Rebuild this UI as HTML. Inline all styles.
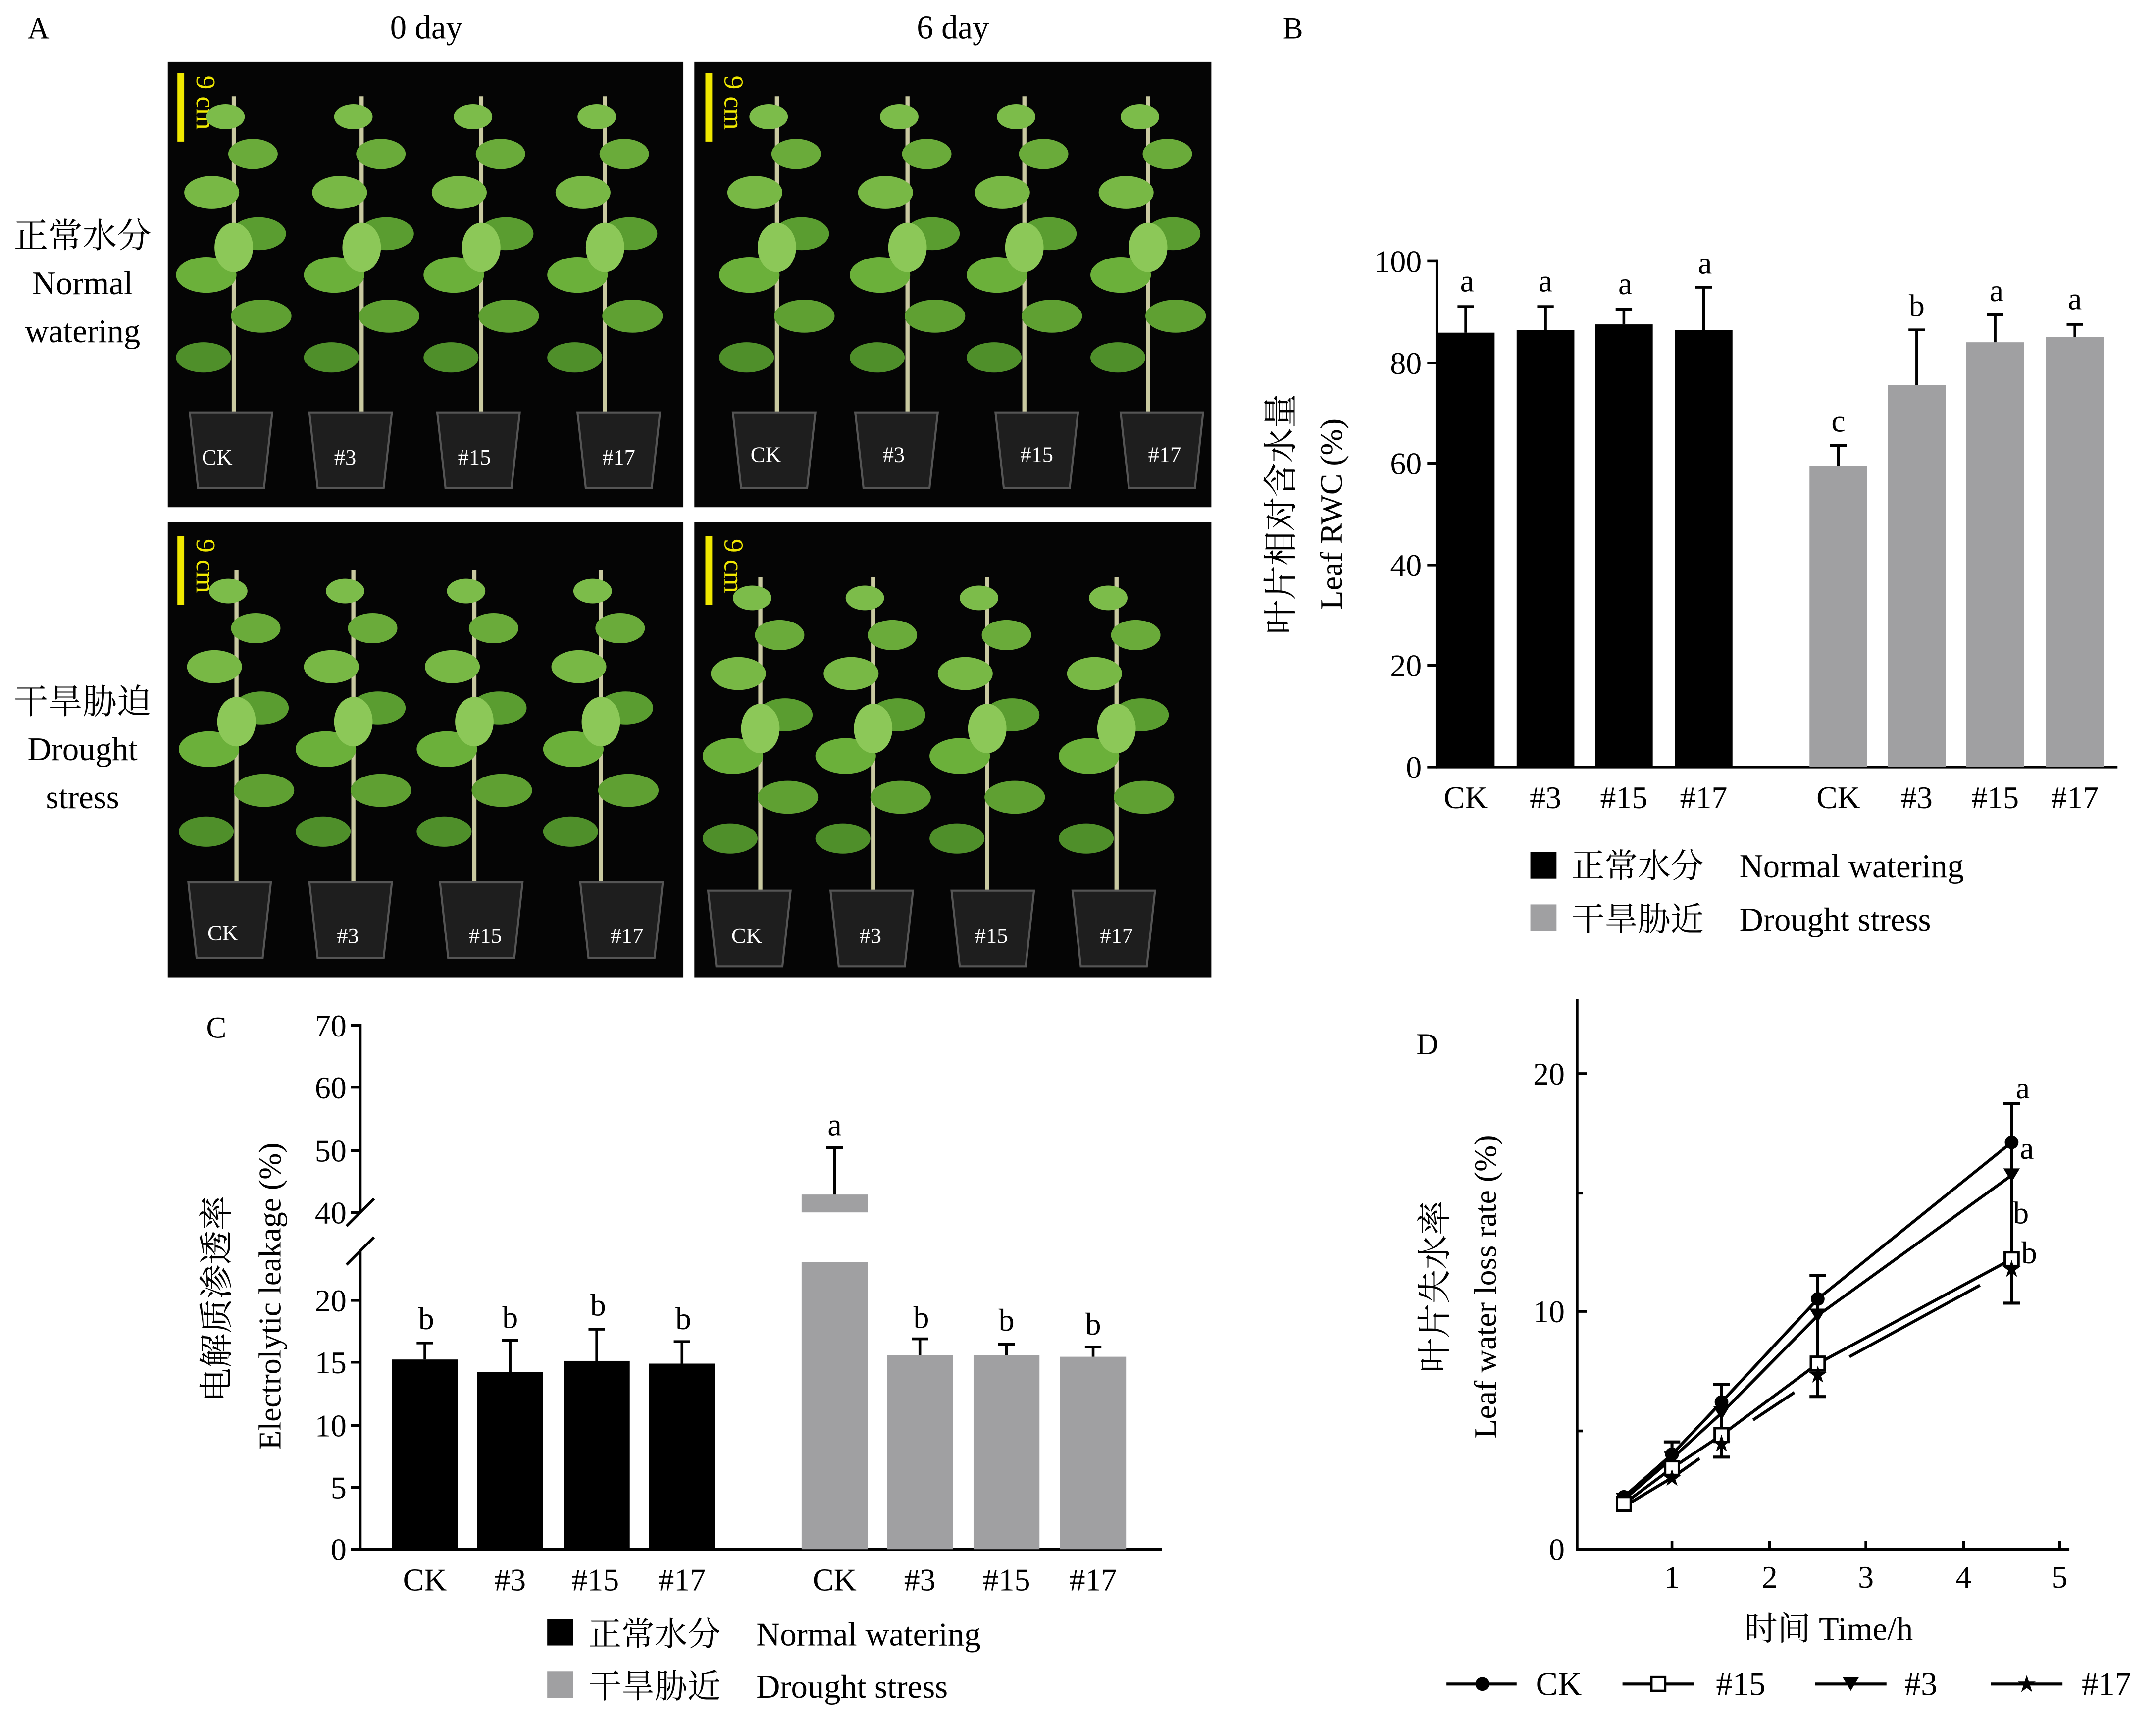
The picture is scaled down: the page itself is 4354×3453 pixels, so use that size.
<!DOCTYPE html>
<html><head><meta charset="utf-8"><style>
html,body{margin:0;padding:0;background:#fff}
svg{display:block}
text{font-family:"Liberation Serif","Noto Serif CJK SC","Noto Sans CJK SC",serif;fill:#000}
</style></head><body>
<svg width="4354" height="3453" viewBox="0 0 1568 1244" preserveAspectRatio="none" xmlns="http://www.w3.org/2000/svg">
<defs>
<g id="plant">
 <line x1="0" y1="0" x2="0" y2="-230" stroke="#c9c9a0" stroke-width="3"/>
 <ellipse cx="-22" cy="-40" rx="20" ry="11" fill="#4f8f2a"/>
 <ellipse cx="20" cy="-70" rx="22" ry="12" fill="#5fa032"/>
 <ellipse cx="-20" cy="-100" rx="22" ry="13" fill="#6bb03a"/>
 <ellipse cx="18" cy="-130" rx="20" ry="12" fill="#5a9d30"/>
 <ellipse cx="-16" cy="-160" rx="20" ry="12" fill="#78b845"/>
 <ellipse cx="14" cy="-188" rx="18" ry="11" fill="#6aab3a"/>
 <ellipse cx="-6" cy="-215" rx="14" ry="9" fill="#7cbc4a"/>
 <ellipse cx="0" cy="-120" rx="14" ry="18" fill="#8cc858"/>
</g>
<g id="pot">
 <path d="M-30,0 L30,0 L24,55 L-24,55 Z" fill="#1e1e1e" stroke="#555" stroke-width="1.5"/>
</g>
</defs>

<!-- Panel A -->
<text x="20" y="28" font-size="22">A</text>
<text x="310" y="28" font-size="24" text-anchor="middle">0 day</text>
<text x="693" y="28" font-size="24" text-anchor="middle">6 day</text>
<text x="60" y="180" font-size="25" text-anchor="middle">正常水分</text>
<text x="60" y="214" font-size="24" text-anchor="middle">Normal</text>
<text x="60" y="249" font-size="24" text-anchor="middle">watering</text>
<text x="60" y="519" font-size="25" text-anchor="middle">干旱胁迫</text>
<text x="60" y="553" font-size="24" text-anchor="middle">Drought</text>
<text x="60" y="588" font-size="24" text-anchor="middle">stress</text>

<g>
<rect x="122" y="45" width="375" height="324" fill="#050505"/>
<rect x="505" y="45" width="376" height="324" fill="#050505"/>
<rect x="122" y="380" width="375" height="331" fill="#050505"/>
<rect x="505" y="380" width="376" height="331" fill="#050505"/>
<rect x="129" y="53" width="5" height="50" fill="#f0e800"/><text font-size="20" style="fill:#f0e800" transform="translate(143,55) rotate(90)">9 cm</text>
<rect x="513" y="53" width="5" height="50" fill="#f0e800"/><text font-size="20" style="fill:#f0e800" transform="translate(527,55) rotate(90)">9 cm</text>
<rect x="129" y="390" width="5" height="50" fill="#f0e800"/><text font-size="20" style="fill:#f0e800" transform="translate(143,392) rotate(90)">9 cm</text>
<rect x="513" y="390" width="5" height="50" fill="#f0e800"/><text font-size="20" style="fill:#f0e800" transform="translate(527,392) rotate(90)">9 cm</text>
<use href="#plant" x="170" y="300"/><use href="#plant" x="263" y="300"/><use href="#plant" x="350" y="300"/><use href="#plant" x="440" y="300"/>
<use href="#pot" x="168" y="300"/><use href="#pot" x="255" y="300"/><use href="#pot" x="348" y="300"/><use href="#pot" x="450" y="300"/>
<use href="#plant" x="565" y="300"/><use href="#plant" x="660" y="300"/><use href="#plant" x="745" y="300"/><use href="#plant" x="835" y="300"/>
<use href="#pot" x="563" y="300"/><use href="#pot" x="652" y="300"/><use href="#pot" x="754" y="300"/><use href="#pot" x="845" y="300"/>
<use href="#plant" x="172" y="645"/><use href="#plant" x="257" y="645"/><use href="#plant" x="345" y="645"/><use href="#plant" x="437" y="645"/>
<use href="#pot" x="167" y="642"/><use href="#pot" x="255" y="642"/><use href="#pot" x="350" y="642"/><use href="#pot" x="452" y="642"/>
<use href="#plant" x="553" y="650"/><use href="#plant" x="635" y="650"/><use href="#plant" x="718" y="650"/><use href="#plant" x="812" y="650"/>
<use href="#pot" x="545" y="648"/><use href="#pot" x="634" y="648"/><use href="#pot" x="722" y="648"/><use href="#pot" x="810" y="648"/>
<g font-size="16">
<text x="158" y="338" text-anchor="middle" style="fill:#fff">CK</text><text x="251" y="338" text-anchor="middle" style="fill:#fff">#3</text><text x="345" y="338" text-anchor="middle" style="fill:#fff">#15</text><text x="450" y="338" text-anchor="middle" style="fill:#fff">#17</text>
<text x="557" y="336" text-anchor="middle" style="fill:#fff">CK</text><text x="650" y="336" text-anchor="middle" style="fill:#fff">#3</text><text x="754" y="336" text-anchor="middle" style="fill:#fff">#15</text><text x="847" y="336" text-anchor="middle" style="fill:#fff">#17</text>
<text x="162" y="684" text-anchor="middle" style="fill:#fff">CK</text><text x="253" y="686" text-anchor="middle" style="fill:#fff">#3</text><text x="353" y="686" text-anchor="middle" style="fill:#fff">#15</text><text x="456" y="686" text-anchor="middle" style="fill:#fff">#17</text>
<text x="543" y="686" text-anchor="middle" style="fill:#fff">CK</text><text x="633" y="686" text-anchor="middle" style="fill:#fff">#3</text><text x="721" y="686" text-anchor="middle" style="fill:#fff">#15</text><text x="812" y="686" text-anchor="middle" style="fill:#fff">#17</text>
</g>
</g>

<!-- Panel B -->
<text x="933" y="28" font-size="22">B</text>
<g stroke="#000" stroke-width="2" fill="none">
<line x1="1045" y1="189" x2="1045" y2="558"/>
<line x1="1044" y1="558" x2="1540" y2="558"/>
<line x1="1038" y1="190" x2="1045" y2="190"/><line x1="1038" y1="264" x2="1045" y2="264"/><line x1="1038" y1="337" x2="1045" y2="337"/><line x1="1038" y1="411" x2="1045" y2="411"/><line x1="1038" y1="484" x2="1045" y2="484"/><line x1="1038" y1="558" x2="1045" y2="558"/>
</g>
<g font-size="23" text-anchor="end">
<text x="1034" y="198">100</text><text x="1034" y="272">80</text><text x="1034" y="345">60</text><text x="1034" y="419">40</text><text x="1034" y="492">20</text><text x="1034" y="566">0</text>
</g>
<text font-size="25" text-anchor="middle" transform="translate(940,374) rotate(-90)">叶片相对含水量</text>
<text font-size="23" text-anchor="middle" transform="translate(976,374) rotate(-90)">Leaf RWC (%)</text>
<g fill="#000">
<rect x="1045" y="242" width="42" height="316"/><rect x="1103" y="240" width="42" height="318"/><rect x="1160" y="236" width="42" height="322"/><rect x="1218" y="240" width="42" height="318"/>
</g>
<g fill="#a0a0a2">
<rect x="1316" y="339" width="42" height="219"/><rect x="1373" y="280" width="42" height="278"/><rect x="1430" y="249" width="42" height="309"/><rect x="1488" y="245" width="42" height="313"/>
</g>
<g stroke="#000" stroke-width="2">
<line x1="1066" y1="242" x2="1066" y2="223"/><line x1="1060" y1="223" x2="1072" y2="223"/>
<line x1="1124" y1="240" x2="1124" y2="223"/><line x1="1118" y1="223" x2="1130" y2="223"/>
<line x1="1181" y1="236" x2="1181" y2="225"/><line x1="1175" y1="225" x2="1187" y2="225"/>
<line x1="1239" y1="240" x2="1239" y2="209"/><line x1="1233" y1="209" x2="1245" y2="209"/>
<line x1="1337" y1="339" x2="1337" y2="324"/><line x1="1331" y1="324" x2="1343" y2="324"/>
<line x1="1394" y1="280" x2="1394" y2="240"/><line x1="1388" y1="240" x2="1400" y2="240"/>
<line x1="1451" y1="249" x2="1451" y2="229"/><line x1="1445" y1="229" x2="1457" y2="229"/>
<line x1="1509" y1="245" x2="1509" y2="236"/><line x1="1503" y1="236" x2="1515" y2="236"/>
</g>
<g font-size="23" text-anchor="middle">
<text x="1067" y="212">a</text><text x="1124" y="212">a</text><text x="1182" y="214">a</text><text x="1240" y="199">a</text>
<text x="1337" y="314">c</text><text x="1394" y="230">b</text><text x="1452" y="219">a</text><text x="1509" y="225">a</text>
<text x="1066" y="588">CK</text><text x="1124" y="588">#3</text><text x="1181" y="588">#15</text><text x="1239" y="588">#17</text>
<text x="1337" y="588">CK</text><text x="1394" y="588">#3</text><text x="1451" y="588">#15</text><text x="1509" y="588">#17</text>
</g>
<rect x="1113" y="620" width="19" height="19" fill="#000"/>
<rect x="1113" y="658" width="19" height="19" fill="#a0a0a2"/>
<text x="1143" y="638" font-size="24">正常水分</text><text x="1265" y="638" font-size="24">Normal watering</text>
<text x="1143" y="677" font-size="24">干旱胁近</text><text x="1265" y="677" font-size="24">Drought stress</text>

<!-- Panel C -->
<text x="150" y="755" font-size="22">C</text>
<g stroke="#000" stroke-width="2" fill="none">
<line x1="262" y1="745" x2="262" y2="882"/>
<line x1="262" y1="910" x2="262" y2="1127"/>
<line x1="252" y1="892" x2="272" y2="872"/>
<line x1="252" y1="920" x2="272" y2="900"/>
<line x1="261" y1="1127" x2="845" y2="1127"/>
<line x1="255" y1="746" x2="262" y2="746"/><line x1="255" y1="791" x2="262" y2="791"/><line x1="255" y1="837" x2="262" y2="837"/><line x1="255" y1="882" x2="262" y2="882"/>
<line x1="255" y1="946" x2="262" y2="946"/><line x1="255" y1="991" x2="262" y2="991"/><line x1="255" y1="1037" x2="262" y2="1037"/><line x1="255" y1="1082" x2="262" y2="1082"/><line x1="255" y1="1127" x2="262" y2="1127"/>
</g>
<g font-size="23" text-anchor="end">
<text x="252" y="754">70</text><text x="252" y="799">60</text><text x="252" y="845">50</text><text x="252" y="890">40</text>
<text x="252" y="954">20</text><text x="252" y="999">15</text><text x="252" y="1045">10</text><text x="252" y="1090">5</text><text x="252" y="1135">0</text>
</g>
<text font-size="25" text-anchor="middle" transform="translate(166,945) rotate(-90)">电解质渗透率</text>
<text font-size="23" text-anchor="middle" transform="translate(204,943) rotate(-90)">Electrolytic leakage (%)</text>
<g fill="#000">
<rect x="285" y="989" width="48" height="138"/><rect x="347" y="998" width="48" height="129"/><rect x="410" y="990" width="48" height="137"/><rect x="472" y="992" width="48" height="135"/>
</g>
<g fill="#a0a0a2">
<rect x="583" y="918" width="48" height="209"/><rect x="583" y="869" width="48" height="13"/>
<rect x="645" y="986" width="48" height="141"/><rect x="708" y="986" width="48" height="141"/><rect x="771" y="987" width="48" height="140"/>
</g>
<g stroke="#000" stroke-width="2">
<line x1="309" y1="989" x2="309" y2="977"/><line x1="303" y1="977" x2="315" y2="977"/>
<line x1="371" y1="998" x2="371" y2="975"/><line x1="365" y1="975" x2="377" y2="975"/>
<line x1="434" y1="990" x2="434" y2="967"/><line x1="428" y1="967" x2="440" y2="967"/>
<line x1="496" y1="992" x2="496" y2="976"/><line x1="490" y1="976" x2="502" y2="976"/>
<line x1="607" y1="869" x2="607" y2="835"/><line x1="601" y1="835" x2="613" y2="835"/>
<line x1="669" y1="986" x2="669" y2="974"/><line x1="663" y1="974" x2="675" y2="974"/>
<line x1="732" y1="986" x2="732" y2="978"/><line x1="726" y1="978" x2="738" y2="978"/>
<line x1="795" y1="987" x2="795" y2="980"/><line x1="789" y1="980" x2="801" y2="980"/>
</g>
<g font-size="23" text-anchor="middle">
<text x="310" y="967">b</text><text x="371" y="966">b</text><text x="435" y="957">b</text><text x="497" y="967">b</text>
<text x="607" y="826">a</text><text x="670" y="966">b</text><text x="732" y="968">b</text><text x="795" y="971">b</text>
<text x="309" y="1157">CK</text><text x="371" y="1157">#3</text><text x="433" y="1157">#15</text><text x="496" y="1157">#17</text>
<text x="607" y="1157">CK</text><text x="669" y="1157">#3</text><text x="732" y="1157">#15</text><text x="795" y="1157">#17</text>
</g>
<rect x="398" y="1178" width="19" height="19" fill="#000"/>
<rect x="398" y="1216" width="19" height="19" fill="#a0a0a2"/>
<text x="428" y="1197" font-size="24">正常水分</text><text x="550" y="1197" font-size="24">Normal watering</text>
<text x="428" y="1235" font-size="24">干旱胁近</text><text x="550" y="1235" font-size="24">Drought stress</text>

<!-- Panel D -->
<text x="1030" y="767" font-size="22">D</text>
<g stroke="#000" stroke-width="2" fill="none">
<line x1="1147" y1="727" x2="1147" y2="1127"/>
<line x1="1146" y1="1127" x2="1505" y2="1127"/>
<line x1="1147" y1="781" x2="1154" y2="781"/><line x1="1147" y1="954" x2="1154" y2="954"/><line x1="1147" y1="1127" x2="1154" y2="1127"/>
<line x1="1147" y1="868" x2="1151" y2="868"/><line x1="1147" y1="1041" x2="1151" y2="1041"/>
<line x1="1216" y1="1127" x2="1216" y2="1121"/><line x1="1287" y1="1127" x2="1287" y2="1121"/><line x1="1357" y1="1127" x2="1357" y2="1121"/><line x1="1428" y1="1127" x2="1428" y2="1121"/><line x1="1498" y1="1127" x2="1498" y2="1121"/>
</g>
<g font-size="23">
<text x="1138" y="789" text-anchor="end">20</text><text x="1138" y="962" text-anchor="end">10</text><text x="1138" y="1135" text-anchor="end">0</text>
<text x="1216" y="1155" text-anchor="middle">1</text><text x="1287" y="1155" text-anchor="middle">2</text><text x="1357" y="1155" text-anchor="middle">3</text><text x="1428" y="1155" text-anchor="middle">4</text><text x="1498" y="1155" text-anchor="middle">5</text>
</g>
<text x="1330" y="1193" font-size="24" text-anchor="middle">时间  Time/h</text>
<text font-size="25" text-anchor="middle" transform="translate(1052,936) rotate(-90)">叶片失水率</text>
<text font-size="23" text-anchor="middle" transform="translate(1088,936) rotate(-90)">Leaf water loss rate (%)</text>
<g stroke="#000" stroke-width="2.2" fill="none">
<polyline points="1181,1089 1216,1058 1252,1020 1322,945 1463,831"/>
<polyline points="1181,1091 1216,1061 1252,1028 1322,957 1463,855"/>
<polyline points="1181,1094 1216,1068 1252,1044 1322,992 1463,916"/>
<polyline points="1181,1096 1216,1075 1236,1061"/>
<line x1="1275" y1="1033" x2="1305" y2="1013"/>
<line x1="1345" y1="987" x2="1440" y2="935"/>
<line x1="1216" y1="1049" x2="1216" y2="1078"/><line x1="1210" y1="1049" x2="1222" y2="1049"/>
<line x1="1252" y1="1007" x2="1252" y2="1060"/><line x1="1246" y1="1007" x2="1258" y2="1007"/><line x1="1246" y1="1060" x2="1258" y2="1060"/>
<line x1="1322" y1="928" x2="1322" y2="1016"/><line x1="1316" y1="928" x2="1328" y2="928"/><line x1="1316" y1="1016" x2="1328" y2="1016"/>
<line x1="1463" y1="803" x2="1463" y2="948"/><line x1="1457" y1="803" x2="1469" y2="803"/><line x1="1457" y1="948" x2="1469" y2="948"/>
</g>
<g fill="#000">
<circle cx="1181" cy="1089" r="5"/><circle cx="1216" cy="1058" r="5"/><circle cx="1252" cy="1020" r="5"/><circle cx="1322" cy="945" r="5"/><circle cx="1463" cy="831" r="5"/>
<path d="M1175,1086 h12 l-6,10z M1210,1056 h12 l-6,10z M1246,1023 h12 l-6,10z M1316,952 h12 l-6,10z M1457,850 h12 l-6,10z"/>
</g>
<g fill="#fff" stroke="#000" stroke-width="1.8">
<rect x="1176" y="1089" width="10" height="10"/><rect x="1211" y="1063" width="10" height="10"/><rect x="1247" y="1039" width="10" height="10"/><rect x="1317" y="987" width="10" height="10"/><rect x="1458" y="911" width="10" height="10"/>
</g>
<g font-size="14" text-anchor="middle">
<text x="1216" y="1080">★</text><text x="1252" y="1055">★</text><text x="1322" y="1005">★</text><text x="1463" y="928">★</text>
</g>
<g font-size="23">
<text x="1466" y="799">a</text><text x="1469" y="843">a</text><text x="1464" y="890">b</text><text x="1470" y="919">b</text>
</g>
<g stroke="#000" stroke-width="2.2">
<line x1="1052" y1="1225" x2="1103" y2="1225"/>
<line x1="1180" y1="1225" x2="1232" y2="1225"/>
<line x1="1320" y1="1225" x2="1372" y2="1225"/>
<line x1="1448" y1="1225" x2="1500" y2="1225"/>
</g>
<circle cx="1078" cy="1225" r="5" fill="#000"/>
<rect x="1201" y="1220" width="10" height="10" fill="#fff" stroke="#000" stroke-width="1.8"/>
<path d="M1340,1220 h12 l-6,10z" fill="#000"/>
<text x="1474" y="1230" font-size="14" text-anchor="middle">★</text>
<g font-size="24">
<text x="1117" y="1233">CK</text><text x="1248" y="1233">#15</text><text x="1385" y="1233">#3</text><text x="1514" y="1233">#17</text>
</g>
</svg>
</body></html>
